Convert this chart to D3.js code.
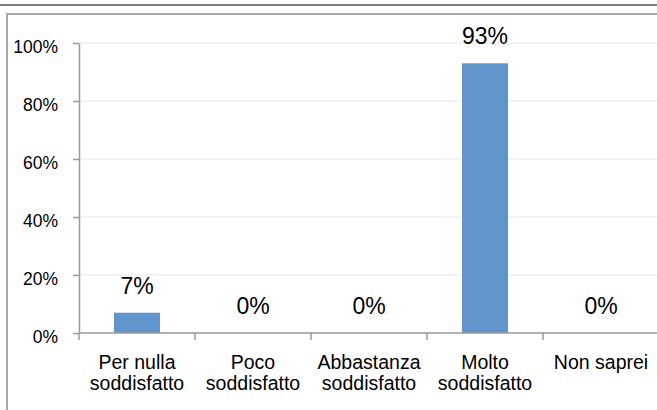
<!DOCTYPE html>
<html>
<head>
<meta charset="utf-8">
<script src="https://cdn.jsdelivr.net/npm/d3@7"></script>
<style>
  html, body { margin: 0; padding: 0; background: #fff; }
  svg { display: block; font-family: "Liberation Sans", Arial, sans-serif; }
</style>
</head>
<body>
<svg id="chart" width="657" height="410"></svg>
<script>
// Survey answers and share of respondents (%)
const categories = [
  ["Per nulla", "soddisfatto"],
  ["Poco", "soddisfatto"],
  ["Abbastanza", "soddisfatto"],
  ["Molto", "soddisfatto"],
  ["Non saprei"]
];
const values = [7, 0, 0, 93, 0];
const yTicks = [0, 20, 40, 60, 80, 100];

const svg = d3.select("#chart");
const W = 657, H = 410;
const plot = { left: 79, right: 659, top: 43, bottom: 333 };

// Outer frame lines
svg.append("line").attr("x1", 0).attr("x2", W).attr("y1", 5).attr("y2", 5)
  .attr("stroke", "#808080").attr("stroke-width", 2);
svg.append("path").attr("d", `M7,${H} V14 H${W}`)
  .attr("fill", "none").attr("stroke", "#a8a8a8").attr("stroke-width", 2);

const keys = categories.map(c => c.join(" "));
const xCat = d3.scaleBand().domain(keys).range([plot.left, plot.right]).padding(0);
const xBar = d3.scaleBand().domain(keys).range([plot.left, plot.right])
  .paddingInner(0.603).paddingOuter(0.3015);
const y = d3.scaleLinear().domain([0, 100]).range([plot.bottom, plot.top]);

// Horizontal gridlines
svg.append("g").selectAll("line").data(yTicks.filter(t => t > 0)).join("line")
  .attr("x1", plot.left).attr("x2", W)
  .attr("y1", d => y(d)).attr("y2", d => y(d))
  .attr("stroke", "#efefef").attr("stroke-width", 1.5);

// Y axis
const yAxis = svg.append("g").attr("transform", `translate(${plot.left},0)`)
  .call(d3.axisLeft(y).tickValues(yTicks).tickFormat(d => d + "%")
    .tickSizeInner(6).tickSizeOuter(0).tickPadding(15));
yAxis.select(".domain").attr("stroke", "#9a9a9a").attr("stroke-width", 1.5);
yAxis.selectAll(".tick line").attr("stroke", "#9a9a9a").attr("stroke-width", 1.5);
yAxis.selectAll(".tick text").attr("font-size", "17.5px").attr("fill", "#000")
  .attr("font-family", "'Liberation Sans', Arial, sans-serif").attr("dy", "0.52em");

// Bars
svg.append("g").selectAll("rect").data(values).join("rect")
  .attr("x", (d, i) => xBar(keys[i]))
  .attr("width", xBar.bandwidth())
  .attr("y", d => y(d))
  .attr("height", d => y(0) - y(d))
  .attr("fill", "#6094ca");

// X axis line and category boundary ticks
svg.append("line").attr("x1", plot.left).attr("x2", W)
  .attr("y1", y(0)).attr("y2", y(0))
  .attr("stroke", "#9a9a9a").attr("stroke-width", 1.5);
const bounds = keys.map(k => xCat(k)).concat([xCat(keys[keys.length - 1]) + xCat.bandwidth()]);
svg.append("g").selectAll("line").data(bounds).join("line")
  .attr("x1", d => d).attr("x2", d => d)
  .attr("y1", y(0)).attr("y2", y(0) + 7)
  .attr("stroke", "#9a9a9a").attr("stroke-width", 1.5);

// Category labels (one or two lines)
const catLabels = svg.append("g").selectAll("text").data(categories).join("text")
  .attr("text-anchor", "middle").attr("font-size", "19.5px").attr("fill", "#000")
  .attr("x", (d, i) => xCat(keys[i]) + xCat.bandwidth() / 2)
  .attr("y", 369);
catLabels.selectAll("tspan").data(d => d).join("tspan")
  .attr("x", function () { return d3.select(this.parentNode).attr("x"); })
  .attr("dy", (d, i) => i === 0 ? 0 : 21)
  .text(d => d);

// Value labels above bars
svg.append("g").selectAll("text").data(values).join("text")
  .attr("text-anchor", "middle").attr("font-size", "23px").attr("fill", "#000")
  .attr("x", (d, i) => xBar(keys[i]) + xBar.bandwidth() / 2)
  .attr("y", d => y(d) - 19)
  .text(d => d + "%");
</script>
</body>
</html>
